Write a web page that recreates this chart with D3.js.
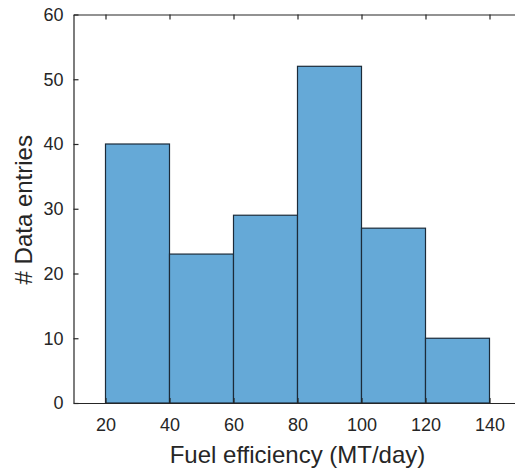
<!DOCTYPE html>
<html>
<head>
<meta charset="utf-8">
<script src="https://cdn.jsdelivr.net/npm/d3@7"></script>
<style>
  html, body { margin: 0; padding: 0; background: #fff; }
  svg { display: block; font-family: "Liberation Sans", Arial, Helvetica, sans-serif; }
</style>
</head>
<body>
<svg id="chart" width="515" height="472"></svg>
<script>
// Histogram bins of fuel efficiency (MT/day) and their counts
const binEdges = [20, 40, 60, 80, 100, 120, 140];
const binCounts = [40, 23, 29, 52, 27, 10];
const xTicks = [20, 40, 60, 80, 100, 120, 140];
const yTicks = [0, 10, 20, 30, 40, 50, 60];
const xLabel = "Fuel efficiency (MT/day)";
const yLabel = "# Data entries";

(function () {
  const bins = binCounts.map((c, i) => ({ x0: binEdges[i], x1: binEdges[i + 1], count: c }));

  const svg = d3.select("#chart");
  const plotLeft = 73.5, plotRight = 521.5, plotTop = 14.5, plotBottom = 403;
  const axisColor = "#262626";

  const x = d3.scaleLinear().domain([10, 150]).range([plotLeft, plotRight]);
  const y = d3.scaleLinear().domain([0, 60]).range([plotBottom, plotTop]);

  // bars
  svg.append("g")
    .selectAll("rect")
    .data(bins)
    .join("rect")
    .attr("x", d => x(d.x0))
    .attr("y", d => y(d.count))
    .attr("width", d => x(d.x1) - x(d.x0))
    .attr("height", d => y(0) - y(d.count))
    .attr("fill", "#65a9d7")
    .attr("stroke", "#1c2b39")
    .attr("stroke-width", 1.2);

  const tickLen = 5;
  const styleAxis = g => {
    g.selectAll("path.domain").attr("stroke", axisColor).attr("stroke-width", 1.2);
    g.selectAll(".tick line").attr("stroke", axisColor).attr("stroke-width", 1.2);
    g.selectAll(".tick text").attr("fill", axisColor).attr("font-size", 18);
  };

  // bottom axis with inward ticks
  svg.append("g")
    .attr("transform", `translate(0,${plotBottom})`)
    .call(d3.axisBottom(x).tickValues(xTicks).tickSizeInner(-tickLen).tickSizeOuter(0).tickPadding(15))
    .call(styleAxis);

  // top box edge
  svg.append("g")
    .attr("transform", `translate(0,${plotTop})`)
    .call(d3.axisTop(x).tickValues(xTicks).tickSizeInner(-tickLen).tickSizeOuter(0).tickFormat(""))
    .call(styleAxis);

  // left axis with inward ticks
  svg.append("g")
    .attr("transform", `translate(${plotLeft},0)`)
    .call(d3.axisLeft(y).tickValues(yTicks).tickSizeInner(-tickLen).tickSizeOuter(0).tickPadding(10))
    .call(styleAxis);

  // right box edge
  svg.append("g")
    .attr("transform", `translate(${plotRight},0)`)
    .call(d3.axisRight(y).tickValues(yTicks).tickSizeInner(-tickLen).tickSizeOuter(0).tickFormat(""))
    .call(styleAxis);

  // axis titles
  svg.append("text")
    .attr("x", (plotLeft + plotRight) / 2)
    .attr("y", 463)
    .attr("text-anchor", "middle")
    .attr("font-size", 24)
    .attr("fill", axisColor)
    .text(xLabel);

  svg.append("text")
    .attr("transform", `translate(32,${(plotTop + plotBottom) / 2 + 1}) rotate(-90)`)
    .attr("text-anchor", "middle")
    .attr("font-size", 24)
    .attr("fill", axisColor)
    .text(yLabel);
})();
</script>
</body>
</html>
